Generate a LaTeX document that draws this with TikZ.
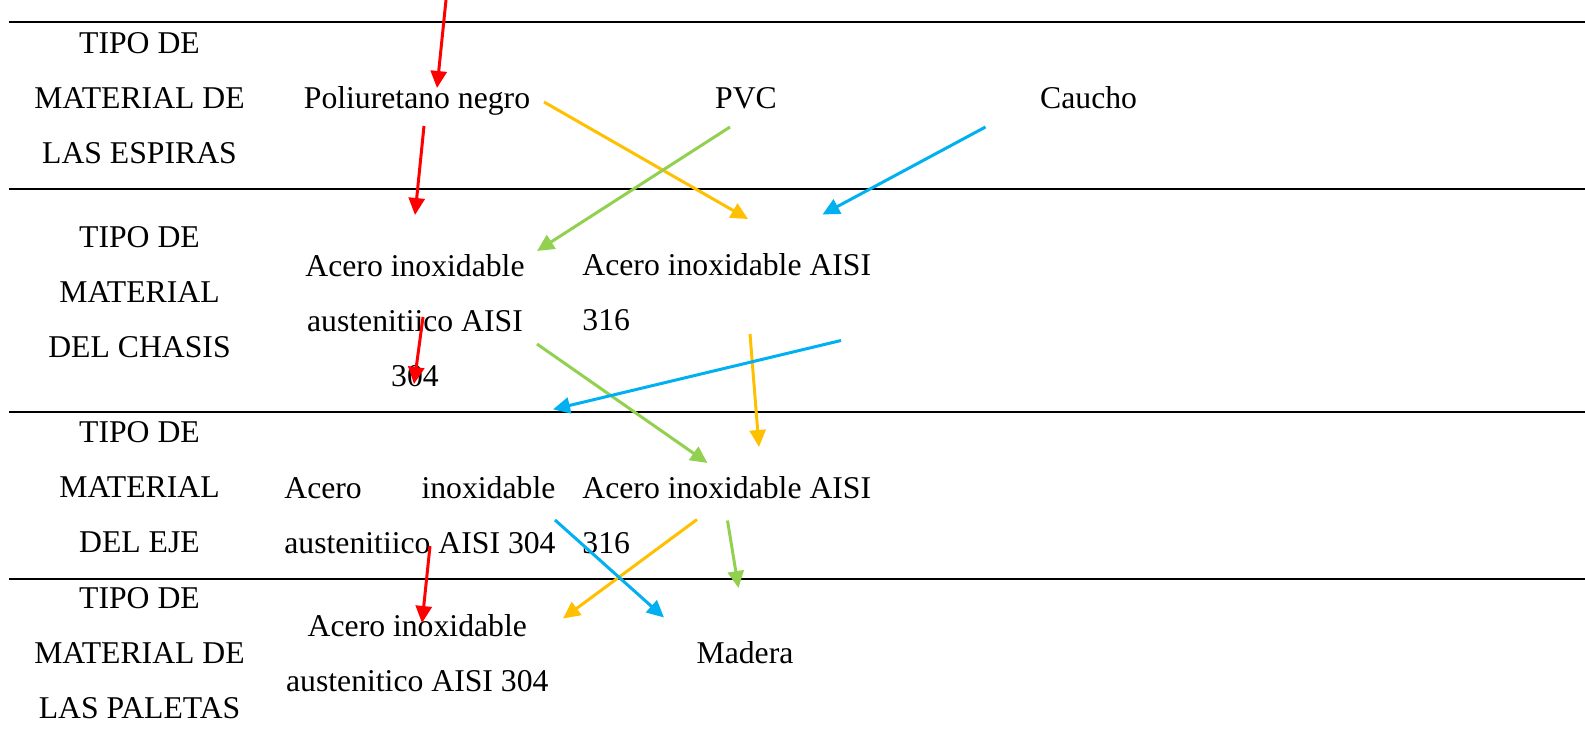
\documentclass[tikz,border=0pt]{standalone}
\usepackage{fontspec}
\setmainfont{Liberation Serif}
\usetikzlibrary{arrows.meta}
\colorlet{red edge}{red}
\definecolor{orange edge}{HTML}{FFC000}
\definecolor{green edge}{HTML}{92D050}
\definecolor{blue edge}{HTML}{00B0F0}
\tikzset{
  txt/.style={inner sep=0pt, font=\fontsize{15.85}{27.5}\selectfont},
  rule/.style={draw=black, line width=1pt},
  edge/.style={-{Triangle[length=8.5pt, width=8pt]}, line width=1.5pt},
  redge/.style={edge, draw=red edge, fill=red edge},
  oedge/.style={edge, draw=orange edge, fill=orange edge},
  gedge/.style={edge, draw=green edge, fill=green edge},
  bedge/.style={edge, draw=blue edge, fill=blue edge}
}

\begin{document}
\begin{tikzpicture}[x=0.5pt, y=-0.5pt]
    \useasboundingbox (0,0) rectangle (1585,745);
    \foreach \y in {21.7, 189.3, 411.7, 579}
      \draw[rule] (9,\y) -- (1585,\y);
    % first column
    \node[txt, align=center] (espiras) at (139.5,98) {TIPO DE\\MATERIAL DE\\LAS ESPIRAS};
    \node[txt, align=center] (chasis) at (139.5,292) {TIPO DE\\MATERIAL\\DEL CHASIS};
    \node[txt, align=center] (eje) at (139.5,487.2) {TIPO DE\\MATERIAL\\DEL EJE};
    \node[txt, align=center] (paletas) at (139.5,653) {TIPO DE\\MATERIAL DE\\LAS PALETAS};
    % options
    \node[txt, anchor=base] (poli) at (417,108.5) {Poliuretano negro};
    \node[txt, anchor=base] (pvc) at (746,108.5) {PVC};
    \node[txt, anchor=base] (caucho) at (1088.6,108.5) {Caucho};
    \node[txt, align=center] (ch304) at (415,320.4) {Acero inoxidable\\austenitiico AISI\\304};
    \node[txt, align=left, anchor=west] (ch316) at (582,292.6) {Acero inoxidable AISI\\316};
    \node[txt, align=left, anchor=west] (ej304) at (284,515) {\hbox to 135.5pt{Acero\hfill inoxidable}\\austenitiico AISI 304};
    \node[txt, align=left, anchor=west] (ej316) at (582,515) {Acero inoxidable AISI\\316};
    \node[txt, align=center] (pa304) at (417.3,653.5) {Acero inoxidable\\austenitico AISI 304};
    \node[txt, anchor=base] (madera) at (745,663.5) {Madera};
    % arrow ends
    \coordinate (r1a) at (446,0);       \coordinate (r1b) at (437,88);
    \coordinate (r2a) at (424,126);     \coordinate (r2b) at (415,215);
    \coordinate (r3a) at (423,317);     \coordinate (r3b) at (414,384);
    \coordinate (r4a) at (430,546);     \coordinate (r4b) at (422,623);
    \coordinate (o1a) at (544,102);     \coordinate (o1b) at (748,219);
    \coordinate (o2a) at (750,334);     \coordinate (o2b) at (759,447);
    \coordinate (o3a) at (697,519.5);   \coordinate (o3b) at (563,618.5);
    \coordinate (g1a) at (730,127);     \coordinate (g1b) at (537,251);
    \coordinate (g2a) at (537,344);     \coordinate (g2b) at (707.5,463);
    \coordinate (g3a) at (727.5,520.5); \coordinate (g3b) at (738.5,588);
    \coordinate (b1a) at (985.5,127);   \coordinate (b1b) at (822.5,214.5);
    \coordinate (b2a) at (841,340.5);   \coordinate (b2b) at (553,409.4);
    \coordinate (b3a) at (555,520);     \coordinate (b3b) at (664,617.5);
    \draw[redge] (r1a) -- (r1b);
    \draw[redge] (r2a) -- (r2b);
    \draw[redge] (r3a) -- (r3b);
    \draw[redge] (r4a) -- (r4b);
    \draw[oedge] (o1a) -- (o1b);
    \draw[oedge] (o2a) -- (o2b);
    \draw[oedge] (o3a) -- (o3b);
    \draw[gedge] (g1a) -- (g1b);
    \draw[gedge] (g2a) -- (g2b);
    \draw[gedge] (g3a) -- (g3b);
    \draw[bedge] (b1a) -- (b1b);
    \draw[bedge] (b2a) -- (b2b);
    \draw[bedge] (b3a) -- (b3b);
  \end{tikzpicture}
\end{document}
